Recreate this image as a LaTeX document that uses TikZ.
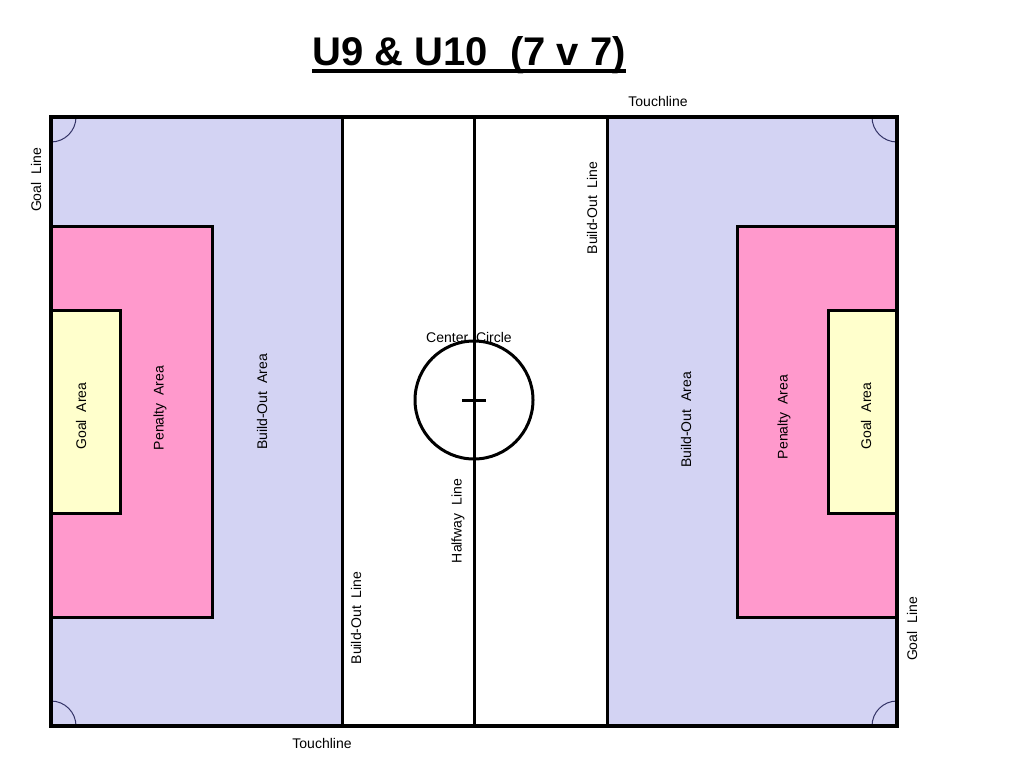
\documentclass[tikz,border=0pt]{standalone}
\usepackage{fontspec}
\setmainfont{Liberation Sans}
\definecolor{boblue}{RGB}{211,211,243}
\definecolor{penpink}{RGB}{255,153,204}
\definecolor{goalyel}{RGB}{255,255,204}
\definecolor{arcblue}{RGB}{51,51,102}
\tikzset{
  lbl/.style={font=\fontsize{14}{17}\selectfont, inner sep=0pt},
  vlbl/.style={lbl, rotate=90},
  area/.style={draw=black, line width=3pt},
  fieldline/.style={draw=black, line width=3pt},
}
\begin{document}
\begin{tikzpicture}[x=1pt,y=-1pt]
\useasboundingbox (0,0) rectangle (1024,768);
\fill[white] (0,0) rectangle (1024,768);
% build-out areas
\fill[boblue] (51,117) rectangle (342,726);
\fill[boblue] (607,117) rectangle (897,726);
% penalty areas
\filldraw[area, fill=penpink] (51,226) rectangle (212,617);
\filldraw[area, fill=penpink] (737,226) rectangle (897,617);
% goal areas
\filldraw[area, fill=goalyel] (51,310) rectangle (120,513);
\filldraw[area, fill=goalyel] (828,310) rectangle (897,513);
% build-out lines and halfway line
\coordinate (bl1t) at (342,117); \coordinate (bl1b) at (342,726);
\coordinate (hwt) at (474,117); \coordinate (hwb) at (474,726);
\coordinate (bl2t) at (607,117); \coordinate (bl2b) at (607,726);
\draw[fieldline] (bl1t) -- (bl1b);
\draw[fieldline] (hwt) -- (hwb);
\draw[fieldline] (bl2t) -- (bl2b);
% center circle and mark
\coordinate (cc) at (474,400);
\draw[fieldline] (cc) circle[radius=59];
\draw[fieldline] (462,400) -- (486,400);
% corner arcs
\begin{scope}
\clip (51,117) rectangle (897,726);
\draw[arcblue, line width=1pt] (51,117) circle[radius=25];
\draw[arcblue, line width=1pt] (897,117) circle[radius=25];
\draw[arcblue, line width=1pt] (51,726) circle[radius=25];
\draw[arcblue, line width=1pt] (897,726) circle[radius=25];
\end{scope}
% outer boundary
\draw[black, line width=4pt] (51,117) rectangle (897,726);
% title
\node[inner sep=0pt, anchor=base, font=\fontsize{40}{46}\selectfont\bfseries] (title) at (469,65) {U9 \& U10\ \ (7 v 7)};
\draw[line width=3.5pt] ([yshift=-6pt]title.base west) -- ([yshift=-6pt]title.base east);
% labels
\node[lbl] (tl1) at (658,101) {Touchline};
\node[lbl] (tl2) at (322,743) {Touchline};
\node[vlbl] (gl1) at (36,180) {Goal\ \ Line};
\node[vlbl] (gl2) at (912,629) {Goal\ \ Line};
\node[vlbl] (bol1) at (592,208) {Build-Out\ \ Line};
\node[vlbl] (bol2) at (356,618) {Build-Out\ \ Line};
\node[vlbl] (hl) at (458,521) {Halfway\ \ Line};
\node[lbl] (ccl) at (469,337) {Center\ \ Circle};
\node[vlbl] (ga1) at (81,416) {Goal\ \ Area};
\node[vlbl] (pa1) at (160,408) {Penalty\ \ Area};
\node[vlbl] (ba1) at (262,402) {Build-Out\ \ Area};
\node[vlbl] (ba2) at (686,420) {Build-Out\ \ Area};
\node[vlbl] (pa2) at (784,417) {Penalty\ \ Area};
\node[vlbl] (ga2) at (866,416) {Goal\ \ Area};
\end{tikzpicture}
\end{document}
